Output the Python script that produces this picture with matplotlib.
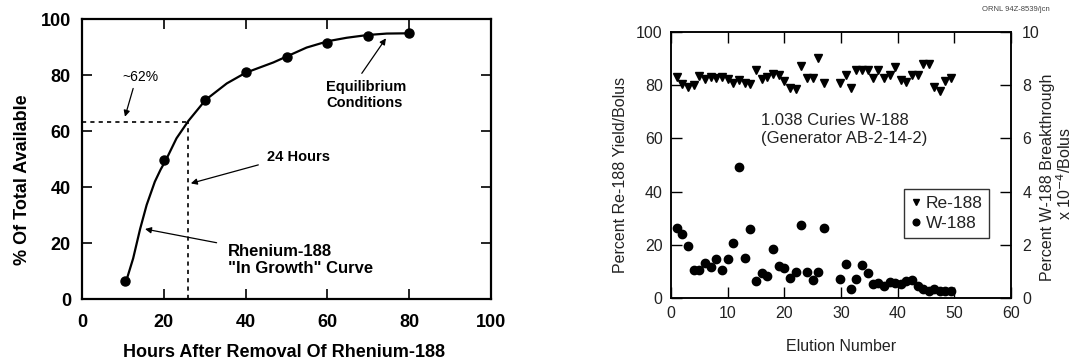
import numpy as np
import matplotlib.pyplot as plt

plt.rcParams['font.family'] = ['Liberation Sans', 'DejaVu Sans']

# left panel: Re-188 in-growth
hours = [10.5, 20, 30, 40, 50, 60, 70, 80]
pct_avail = [6.5, 49.8, 71.2, 81, 86.3, 91.6, 94, 95]
curve_hours = [10.8, 12.5, 14.2, 15.8, 17.8, 19.2, 20.5, 23.1, 26, 30.2, 35.4,
               40, 46.8, 54.9, 60.2, 64.7, 69.9, 74.5, 80]
curve_pct = [6.4, 14.5, 25, 33.6, 41.9, 46.2, 49.6, 57.4, 63.6, 71.1, 77,
             80.8, 84.5, 89.8, 92.1, 93.3, 94.3, 94.8, 94.9]
mark_hours = 26
mark_pct = 63.3

# right panel: generator elutions
elution = list(range(1, 28)) + [29.8, 30.8, 31.7, 32.7, 33.7, 34.7, 35.7, 36.6,
                                37.6, 38.6, 39.6, 40.6, 41.5, 42.5, 43.5, 44.5,
                                45.5, 46.4, 47.4, 48.4, 49.4]
re188 = [83.1, 80.6, 79.4, 80.2, 83.5, 82.5, 83.1, 82.7, 83.1, 82.5, 81, 81.9,
         81, 80.6, 85.6, 82.5, 83.1, 84.3, 84, 81.5, 78.8, 78.5, 87.2, 82.8,
         82.8, 90.2, 81,
         80.9, 84, 79, 85.8, 85.8, 85.8, 82.7, 85.8, 82.7, 84, 86.8, 82.1, 81.1,
         84, 84, 88.1, 88.1, 79.3, 77.8, 81.7, 82.7]
w188 = [2.63, 2.42, 1.95, 1.05, 1.05, 1.31, 1.15, 1.46, 1.06, 1.46, 2.05, 4.94,
        1.52, 2.59, 0.65, 0.94, 0.84, 1.83, 1.19, 1.11, 0.74, 0.99, 2.73, 0.99,
        0.68, 0.96, 2.65,
        0.73, 1.28, 0.32, 0.70, 1.23, 0.94, 0.53, 0.57, 0.45, 0.60, 0.57, 0.51,
        0.63, 0.66, 0.45, 0.32, 0.26, 0.35, 0.26, 0.26, 0.26]

fig = plt.figure(figsize=(10.75, 3.62), dpi=100)

# ---------------- left ----------------
ax1 = fig.add_axes([0.0763, 0.174, 0.3805, 0.7735])
ax1.plot(curve_hours, curve_pct, color='k', lw=1.6, solid_joinstyle='round')
ax1.plot(hours, pct_avail, 'o', color='k', ms=6.5)
ax1.plot([0, mark_hours], [mark_pct, mark_pct], color='k', lw=1.2, ls=(0, (2.5, 2.5)))
ax1.plot([mark_hours, mark_hours], [0, mark_pct], color='k', lw=1.2, ls=(0, (2.5, 2.5)))
ax1.set_xlim(0, 100)
ax1.set_ylim(0, 100)
ax1.set_xticks([0, 20, 40, 60, 80, 100])
ax1.set_yticks([0, 20, 40, 60, 80, 100])
ax1.tick_params(direction='in', length=7, width=1.2, top=True, right=True,
                labelsize=13, pad=8)
ax1.tick_params(axis='x', pad=11)
for lab in ax1.get_xticklabels() + ax1.get_yticklabels():
    lab.set_fontweight('bold')
for sp in ax1.spines.values():
    sp.set_linewidth(1.6)

arr = dict(arrowstyle='-|>', color='k', lw=0.9, mutation_scale=9, shrinkA=0, shrinkB=0)
ax1.text(14.2, 79.4, '~62%', fontsize=10, ha='center', va='center')
ax1.annotate('', xy=(10.5, 65.1), xytext=(12.5, 75.2), arrowprops=arr)
ax1.text(45.2, 50.8, '24 Hours', fontsize=10.5, fontweight='bold', ha='left', va='center')
ax1.annotate('', xy=(26.6, 41.3), xytext=(43.1, 47.9), arrowprops=arr)
ax1.text(35.6, 13.9, 'Rhenium-188\n"In Growth" Curve', fontsize=12, fontweight='heavy',
         ha='left', va='center', linespacing=1.1)
ax1.annotate('', xy=(15.4, 25), xytext=(32.9, 20.1), arrowprops=arr)
ax1.text(59.7, 72.8, 'Equilibrium\nConditions', fontsize=10.5, fontweight='bold',
         ha='left', va='center', linespacing=1.2)
ax1.annotate('', xy=(74.3, 93.1), xytext=(68.4, 80.6), arrowprops=arr)

fig.text(0.0205, 0.504, '% Of Total Available', rotation=90, fontsize=13,
         fontweight='bold', ha='center', va='center')
fig.text(0.264, 0.0276, 'Hours After Removal Of Rhenium-188', fontsize=13,
         fontweight='bold', ha='center', va='center')

# ---------------- right ----------------
txt = '#222222'
ax2 = fig.add_axes([0.6242, 0.1768, 0.3163, 0.7348])
ax2.plot(elution, re188, 'v', color='k', ms=6, label='Re-188')
ax2.set_xlim(0, 60)
ax2.set_ylim(0, 100)
ax2.set_xticks([0, 10, 20, 30, 40, 50, 60])
ax2.set_yticks([0, 20, 40, 60, 80, 100])
ax2.tick_params(direction='in', length=8, width=1, top=True, labelsize=11.5,
                labelcolor=txt, pad=6)
ax3 = ax2.twinx()
ax3.plot(elution, w188, 'o', color='k', ms=6, label='W-188')
ax3.set_ylim(0, 10)
ax3.set_yticks([0, 2, 4, 6, 8, 10])
ax3.tick_params(direction='in', length=8, width=1, labelsize=11.5,
                labelcolor=txt, pad=8)
for a in (ax2, ax3):
    for sp in a.spines.values():
        sp.set_linewidth(1.1)

ax2.text(15.9, 63.4, '1.038 Curies W-188\n(Generator AB-2-14-2)', fontsize=12,
         color=txt, ha='left', va='center', linespacing=1.25)

h1, l1 = ax2.get_legend_handles_labels()
h2, l2 = ax3.get_legend_handles_labels()
leg = ax3.legend(h1 + h2, l1 + l2, loc='upper left', bbox_to_anchor=(0.685, 0.41),
                 fontsize=12.5, handlelength=0.6, handletextpad=0.25, markerscale=0.8,
                 borderpad=0.4, labelspacing=0.3, fancybox=False, framealpha=1,
                 edgecolor='#333333', borderaxespad=0)
leg.get_frame().set_linewidth(1.0)
for t in leg.get_texts():
    t.set_color(txt)

fig.text(0.5772, 0.518, 'Percent Re-188 Yield/Bolus', rotation=90, fontsize=11.5,
         color=txt, ha='center', va='center')
fig.text(0.9745, 0.511, 'Percent W-188 Breakthrough', rotation=90, fontsize=11.5,
         color=txt, ha='center', va='center')
fig.text(0.9905, 0.522, r'x 10$^{-4}$/Bolus', rotation=90, fontsize=11.5,
         color=txt, ha='center', va='center')
fig.text(0.7823, 0.044, 'Elution Number', fontsize=11.5, color=txt,
         ha='center', va='center')
fig.text(0.9447, 0.975, 'ORNL 94Z-8539/jcn', fontsize=5.5, color='#444444',
         ha='center', va='center')

fig.savefig('out.png', dpi=100)
